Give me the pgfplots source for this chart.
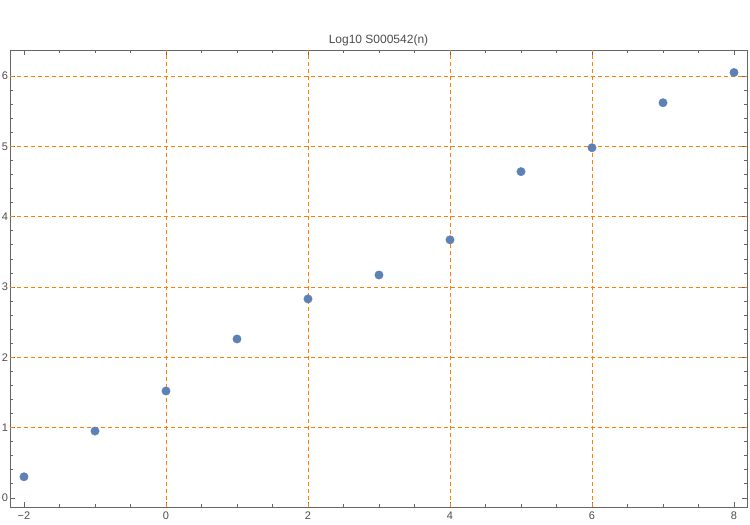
\documentclass[border=0pt]{standalone}
\usepackage{pgfplots}
\pgfplotsset{compat=1.18}
\usepackage{fontspec}
\setmainfont{Liberation Sans}
\definecolor{ptblue}{rgb}{0.368,0.507,0.710}
\definecolor{gridor}{rgb}{1,0.5,0}
\definecolor{framegray}{gray}{0.4}
\definecolor{labgray}{gray}{0.3}
\begin{document}
\begin{tikzpicture}[x=1pt,y=1pt]
\begin{axis}[
  scale only axis,
  width=737pt, height=457pt,
  xmin=-2.197, xmax=8.183,
  ymin=-0.13, ymax=6.37,
  xtick={-2,0,2,4,6,8},
  xticklabels={−2,0,2,4,6,8},
  ytick={0,1,2,3,4,5,6},
  minor x tick num=3,
  minor y tick num=4,
  tick align=inside,
  major tick length=5pt,
  minor tick length=3pt,
  axis line style={framegray, line width=0.8pt},
  every tick/.style={framegray, line width=0.6pt},
  extra x ticks={0,2,4,6},
  extra y ticks={1,2,3,4,5,6},
  extra x tick labels={},
  extra y tick labels={},
  extra tick style={grid=major, major tick length=0pt},
  major grid style={gridor, dash pattern=on 4pt off 3pt, line width=0.7pt},
  tick label style={font=\fontsize{11}{13}\selectfont, text=labgray},
  /pgf/number format/assume math mode=true,
  xticklabel shift=1pt,
  yticklabel shift=-1.5pt,
  title={Log10 S000542(n)},
  title style={font=\fontsize{12}{14}\selectfont, text=labgray, yshift=-6pt},
]
\addplot[only marks, mark=*, mark size=4.2pt, mark options={fill=ptblue, draw=ptblue}] coordinates {
(-2,0.30) (-1,0.95) (0,1.52) (1,2.26) (2,2.83) (3,3.17) (4,3.67) (5,4.64) (6,4.98) (7,5.62) (8,6.05)
};
\end{axis}
\pgfresetboundingbox
\path (current axis.south west)+(-10pt,-18pt) coordinate (bl);
\path (current axis.north east)+(3pt,50pt) coordinate (tr);
\path[use as bounding box] (bl) rectangle (tr);
\end{tikzpicture}
\end{document}
